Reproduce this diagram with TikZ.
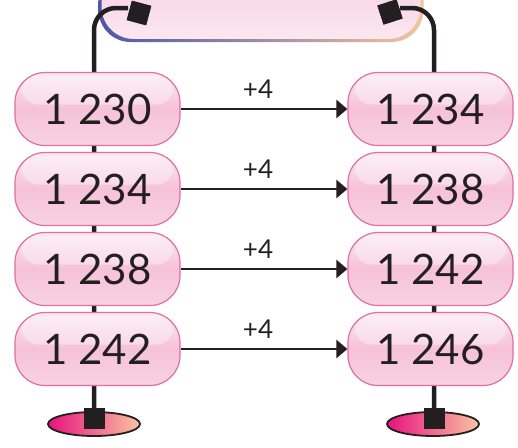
\documentclass[tikz,border=0pt]{standalone}
\usepackage{fontspec}
\setmainfont{Lato}
\usetikzlibrary{arrows.meta,positioning,shapes.geometric}

\definecolor{boxline}{HTML}{E56C9E}
\definecolor{boxtop}{HTML}{FBE8F1}
\definecolor{boxmid}{HTML}{F6C2D9}
\definecolor{boxbot}{HTML}{F8D2E3}
\definecolor{bandblue}{HTML}{4B57A6}
\definecolor{bandpeach}{HTML}{F3C59E}
\definecolor{footpink}{HTML}{E8137E}
\definecolor{footpeach}{HTML}{F9C3A2}
\definecolor{rod}{HTML}{231F20}

\tikzset{
  numbox/.style={rectangle,rounded corners=30pt,draw=boxline,line width=1.2pt,
    top color=boxtop,bottom color=boxbot,middle color=boxmid,
    minimum width=165pt,minimum height=73pt,text=rod,
    font=\fontsize{42}{42}\selectfont,
    path picture={\fill[white,opacity=0.35,rounded corners=16pt]
      ([xshift=7pt,yshift=-3pt]path picture bounding box.north west) rectangle
      ([xshift=-7pt,yshift=-32pt]path picture bounding box.north east);}},
  capsq/.style={rectangle,fill=rod,minimum size=20pt,inner sep=0pt},
  footring/.style={ellipse,draw=rod,line width=1.8pt,left color=footpink,
    right color=footpeach,minimum width=92pt,minimum height=24pt},
  rodline/.style={draw=rod,line width=4.5pt,rounded corners=22pt},
  plus/.style={text=rod,inner sep=9pt,font=\fontsize{26}{26}\selectfont}
}

\begin{document}
\begin{tikzpicture}[x=1pt,y=-1pt,>={Triangle[length=11pt,width=18pt]},
  auto,node distance=80pt]

\useasboundingbox (0,0) rectangle (518,447);
\clip (0,0) rectangle (518,447);

\shade[top color=boxmid,bottom color=boxtop,rounded corners=32pt]
  (100,-60) rectangle (422,40);
\shade[left color=bandblue,right color=bandpeach,even odd rule,rounded corners=32pt]
  (98.5,-60) rectangle (423.5,42) (101.5,-60) rectangle (420.5,39);

\node[footring] (baseL) at (94,424) {};
\node[footring] (baseR) at (433,424) {};

\node[capsq,rotate=-15] (capL) at (139,13) {};
\node[capsq,rotate=18]  (capR) at (390,12) {};
\node[capsq,minimum size=21pt] (footL) at (94,418) {};
\node[capsq,minimum size=21pt] (footR) at (434,418) {};
\coordinate (topL) at (128,8);
\coordinate (topR) at (400,8);

\path[rodline] (topL) -| (footL.center);
\path[rodline] (topR) -| (footR.center);
\node[capsq,rotate=-15] at (capL) {};
\node[capsq,rotate=18] at (capR) {};
\node[capsq,minimum size=21pt] at (footL) {};
\node[capsq,minimum size=21pt] at (footR) {};

\node[numbox] (l1) at (97.5,109) {1 230};
\node[numbox] (l2) [below of=l1] {1 234};
\node[numbox] (l3) [below of=l2] {1 238};
\node[numbox] (l4) [below of=l3] {1 242};
\node[numbox] (r1) [right of=l1,node distance=333pt] {1 234};
\node[numbox] (r2) [right of=l2,node distance=333pt] {1 238};
\node[numbox] (r3) [right of=l3,node distance=333pt] {1 242};
\node[numbox] (r4) [right of=l4,node distance=333pt] {1 246};

\foreach \i in {1,...,4}
  \draw[->,draw=rod,line width=2.5pt] (l\i) -- node[plus,xshift=-6pt]{+4} (r\i);

\end{tikzpicture}
\end{document}
